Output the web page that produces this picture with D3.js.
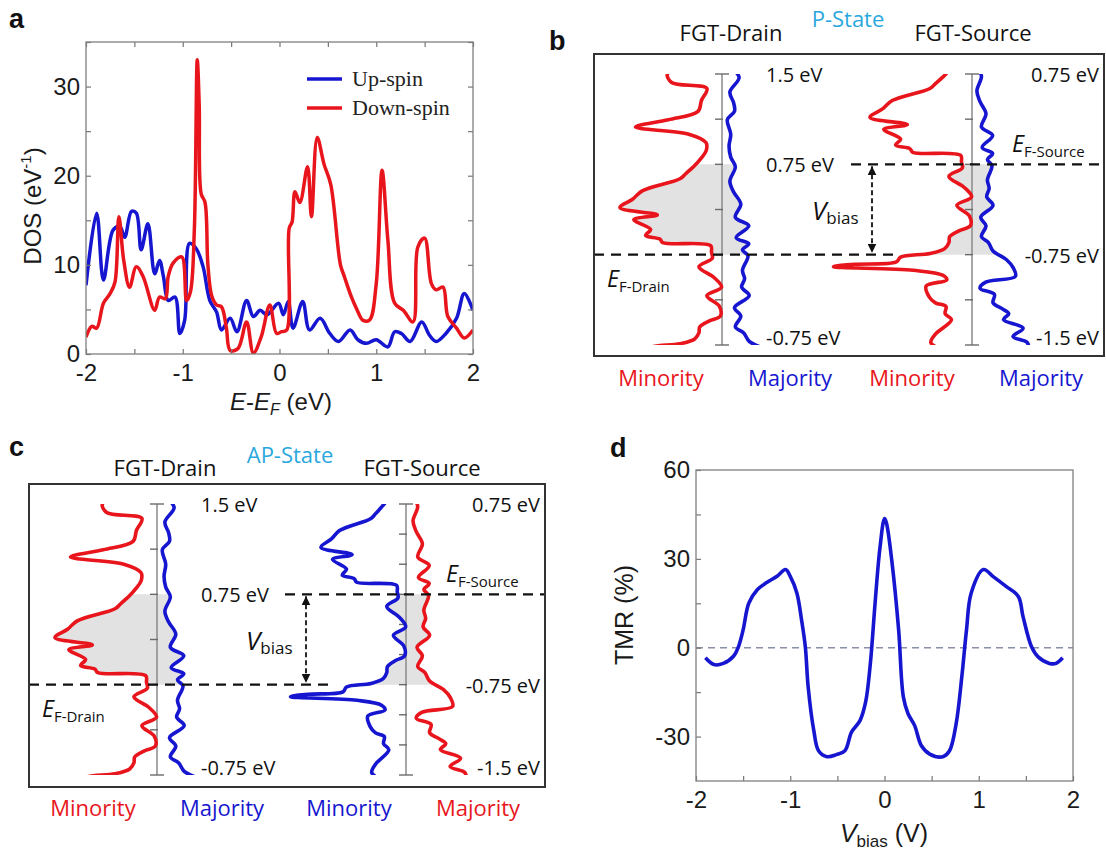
<!DOCTYPE html>
<html>
<head>
<meta charset="utf-8">
<script src="https://cdn.jsdelivr.net/npm/d3@7"></script>
<style>
  body { margin: 0; background: #fff; }
</style>
</head>
<body>
<svg id="fig" width="1106" height="851" font-family="Liberation Sans, Arial, sans-serif"></svg>
<script>
// ---- panel a : spin resolved DOS ----
const upE   = [-2,-1.89,-1.82,-1.72,-1.65,-1.6,-1.53,-1.48,-1.43,-1.36,-1.29,-1.24,-1.2,-1.15,-1.08,-1.03,-0.98,-0.93,-0.86,-0.79,-0.72,-0.65,-0.6,-0.51,-0.44,-0.34,-0.27,-0.2,-0.13,-0.01,0.04,0.09,0.14,0.24,0.31,0.42,0.52,0.61,0.73,0.81,0.9,1.0,1.12,1.19,1.26,1.35,1.47,1.55,1.62,1.72,1.83,1.91,2.0];
const upDOS = [7.7,15.8,8.3,13.9,14.3,13.1,16,15.8,11.7,14.6,9,10.5,8.7,6,6.4,2.3,3.8,12.4,11.8,9.8,6,4.7,2.7,4,2.5,6,4.2,4.9,4.4,5.7,4.4,5.9,2.9,5.9,2.7,4,2.3,1.4,2.7,1.6,1.2,1.6,0.8,2.5,2.3,1.4,3.6,2.1,1.4,2.3,4,6.8,4.9];
const downE   = [-2,-1.94,-1.89,-1.82,-1.75,-1.7,-1.66,-1.61,-1.55,-1.48,-1.41,-1.29,-1.24,-1.18,-1.15,-1.1,-1.01,-0.96,-0.92,-0.88,-0.85,-0.83,-0.81,-0.77,-0.74,-0.7,-0.65,-0.6,-0.55,-0.51,-0.43,-0.34,-0.27,-0.19,-0.1,-0.03,0.02,0.075,0.1,0.13,0.16,0.21,0.29,0.33,0.39,0.46,0.53,0.63,0.67,0.74,0.8,0.86,0.93,1.0,1.06,1.12,1.19,1.28,1.38,1.43,1.5,1.57,1.62,1.69,1.74,1.83,1.91,2.0];
const downDOS = [1.9,3.1,2.9,5.7,6.8,8.1,15.4,10.5,7.5,9.8,8.7,4.9,6.4,6.2,8.7,10.2,10.9,6,7,14,33,28,18,17,10,6.5,5.5,5.3,3,0.4,0.6,3.6,0.1,1.9,5.5,2.3,2.5,2.7,14.1,14.8,18.2,17,21,15.4,24.3,21.3,19,10,8.7,6.5,5,3.8,3.8,7.9,20.6,12.8,5.7,4.9,3.6,12,13,7.9,7.2,7.5,4.2,2.9,1.8,2.7];
const dosTicks = [0, 10, 20, 30], dosMinor = [5, 15, 25, 35];
const eTicks = [-2, -1, 0, 1, 2], eMinor = [-1.5, -0.5, 0.5, 1.5];

// ---- panels b, c : energy axes ----
const drainTicks    = [1.5, 1.125, 0.75, 0.375, 0, -0.375, -0.75];
const sourceTicksP  = [0.75, 0.375, 0, -0.375, -0.75, -1.125, -1.5];
const sourceTicksAP = [0.75, 0.5, 0.25, 0, -0.25, -0.5, -0.75, -1, -1.25, -1.5];
const drainLabels  = [[1.5, "1.5 eV"], [0.75, "0.75 eV"], [-0.75, "-0.75 eV"]];
const sourceLabels = [[0.75, "0.75 eV"], [-0.75, "-0.75 eV"], [-1.5, "-1.5 eV"]];

// ---- panel d : TMR vs bias ----
const vBias = [-1.9,-1.81,-1.71,-1.6,-1.55,-1.5,-1.44,-1.35,-1.25,-1.14,-1.05,-1.0,-0.93,-0.88,-0.84,-0.81,-0.75,-0.7,-0.61,-0.51,-0.42,-0.35,-0.26,-0.2,-0.15,-0.1,-0.05,0,0.02,0.08,0.15,0.2,0.25,0.32,0.39,0.48,0.62,0.69,0.76,0.82,0.87,0.92,1.05,1.15,1.29,1.42,1.47,1.56,1.63,1.75,1.82,1.89];
const tmr   = [-3.4,-5.7,-5.3,-2.8,0.3,6,15,19.6,22,24.1,26.4,24.1,18.5,9.4,0.3,-13.2,-28,-34.8,-36.8,-36.1,-34.8,-28.5,-24.6,-18.3,-5.3,15,33.2,43.6,42.2,28.7,6,-16.6,-22.3,-26.3,-33,-35.9,-36.8,-34.8,-25.7,-9.9,6,18.5,26.4,24.1,20.7,17.3,10.5,0.3,-3.1,-5.3,-5.3,-3.4];
const tmrTicks = [-30, 0, 30, 60], tmrMinor = [-15, 15, 45];
const vTicks = [-2, -1, 0, 1, 2], vMinor = [-1.5, -0.5, 0.5, 1.5];

const blue = "#1616d0", red = "#e8161c", cyan = "#2aa8de";
const up = upE.map((e, i) => ({ e: e, d: upDOS[i] }));
const down = downE.map((e, i) => ({ e: e, d: downDOS[i] }));

const svg = d3.select("#fig");
const defs = svg.append("defs");
defs.append("marker").attr("id", "arr")
  .attr("viewBox", "0 0 10 10").attr("refX", 10).attr("refY", 5)
  .attr("markerWidth", 9).attr("markerHeight", 9).attr("markerUnits", "userSpaceOnUse")
  .attr("orient", "auto-start-reverse")
  .append("path").attr("d", "M0,0 L10,5 L0,10 z").attr("fill", "#111");

const smooth = d3.curveCatmullRom.alpha(0.5);

function letter(x, y, t) {
  svg.append("text").attr("x", x).attr("y", y).attr("font-size", 27)
    .attr("font-family", "Liberation Sans, Arial, sans-serif")
    .attr("font-weight", "bold").attr("fill", "#111").text(t);
}

// box with inward ticks (a and d)
function framed(g, x, y, xt, xm, yt, ym, mirror) {
  const [x0, x1] = x.range(), [y0, y1] = y.range();
  const lab = list => d => list.includes(d) ? String(d) : "";
  const style = sel => {
    sel.select(".domain").remove();
    sel.attr("font-size", 24).attr("font-family", "Liberation Sans, Arial, sans-serif");
    sel.selectAll(".tick line").attr("stroke", "#777").attr("stroke-width", 1.2);
    sel.selectAll(".tick text").attr("fill", "#1a1a1a");
  };
  g.append("g").attr("transform", `translate(0,${y0})`)
    .call(d3.axisBottom(x).tickValues(xt.concat(xm)).tickSizeInner(-5).tickSizeOuter(0)
      .tickPadding(10).tickFormat(lab(xt))).call(style);
  g.append("g").attr("transform", `translate(${x0},0)`)
    .call(d3.axisLeft(y).tickValues(yt.concat(ym)).tickSizeInner(-5).tickSizeOuter(0)
      .tickPadding(6).tickFormat(lab(yt))).call(style);
  if (mirror) {
    g.append("g").attr("transform", `translate(0,${y1})`)
      .call(d3.axisTop(x).tickValues(xt.concat(xm)).tickSizeInner(-5).tickSizeOuter(0).tickFormat(""))
      .call(style);
    g.append("g").attr("transform", `translate(${x1},0)`)
      .call(d3.axisRight(y).tickValues(yt.concat(ym)).tickSizeInner(-5).tickSizeOuter(0).tickFormat(""))
      .call(style);
  }
  g.append("rect").attr("x", x0).attr("y", y1).attr("width", x1 - x0).attr("height", y0 - y1)
    .attr("fill", "none").attr("stroke", "#808080").attr("stroke-width", 1.3);
}

// ================= panel a =================
const xA = d3.scaleLinear().domain([-2, 2]).range([86, 473]);
const yA = d3.scaleLinear().domain([0, 35]).range([354, 42]);
const gA = svg.append("g");
defs.append("clipPath").attr("id", "clipA").append("rect")
  .attr("x", xA(-2)).attr("y", yA(35)).attr("width", xA(2) - xA(-2)).attr("height", yA(0) - yA(35));
const lineA = d3.line().x(p => xA(p.e)).y(p => yA(p.d)).curve(smooth);
gA.append("path").datum(up).attr("d", lineA).attr("clip-path", "url(#clipA)")
  .attr("fill", "none").attr("stroke", blue).attr("stroke-width", 3.5).attr("stroke-linejoin", "round");
gA.append("path").datum(down).attr("d", lineA).attr("clip-path", "url(#clipA)")
  .attr("fill", "none").attr("stroke", red).attr("stroke-width", 3.5).attr("stroke-linejoin", "round");
framed(gA, xA, yA, eTicks, eMinor, dosTicks, dosMinor, true);

const legA = [["Up-spin", blue], ["Down-spin", red]];
legA.forEach((l, i) => {
  const yy = 79 + i * 29;
  gA.append("line").attr("x1", 307).attr("x2", 342).attr("y1", yy).attr("y2", yy)
    .attr("stroke", l[1]).attr("stroke-width", 3.5);
  gA.append("text").attr("x", 352).attr("y", yy).attr("dy", "0.33em")
    .attr("font-family", "Liberation Serif, Times New Roman, serif").attr("font-size", 22)
    .attr("fill", "#222").text(l[0]);
});
const ylA = gA.append("text").attr("transform", "translate(41,206) rotate(-90)")
  .attr("text-anchor", "middle").attr("font-size", 24).attr("fill", "#1a1a1a");
ylA.append("tspan").text("DOS (eV");
ylA.append("tspan").attr("dy", -10).attr("font-size", 15).text("-1");
ylA.append("tspan").attr("dy", 10).text(")");
const xlA = gA.append("text").attr("x", 281).attr("y", 410)
  .attr("text-anchor", "middle").attr("font-size", 24).attr("fill", "#1a1a1a");
xlA.append("tspan").attr("font-style", "italic").text("E");
xlA.append("tspan").text("-");
xlA.append("tspan").attr("font-style", "italic").text("E");
xlA.append("tspan").attr("font-style", "italic").attr("font-size", 16).attr("dy", 5).text("F");
xlA.append("tspan").attr("dy", -5).text(" (eV)");
letter(9, 28, "a");

// ================= panels b & c =================
function stateDiagram(c) {
  const g = svg.append("g").attr("font-family", "Open Sans, sans-serif");
  const yD = d3.scaleLinear().domain([1.5, -0.75]).range([c.eTop, c.eBottom]);
  const yS = d3.scaleLinear().domain([0.75, -1.5]).range([c.eTop, c.eBottom]);
  const kD = d3.scaleLinear().domain([0, 10]).range([0, 42]);
  const kSmin = d3.scaleLinear().domain([0, 10]).range([0, c.kSmin]);
  const kSmaj = d3.scaleLinear().domain([0, 10]).range([0, c.kSmaj]);
  const dMin = down.map(p => [c.axisD - kD(p.d), yD(p.e)]);
  const dMaj = up.map(p => [c.axisD + 2 + kD(p.d), yD(p.e)]);
  const sMin = down.map(p => [c.axisS - kSmin(p.d), yS(p.e)]);
  const sMaj = up.map(p => [c.axisS + c.sMajOff + kSmaj(p.d), yS(p.e)]);
  const line = d3.line().curve(smooth);
  const yF0 = yD(0.75), yF1 = yD(0);

  defs.append("clipPath").attr("id", c.id + "band").append("rect")
    .attr("x", c.left).attr("y", yF0).attr("width", c.right - c.left).attr("height", yF1 - yF0);
  defs.append("clipPath").attr("id", c.id + "range").append("rect")
    .attr("x", c.left).attr("y", c.eTop).attr("width", c.right - c.left).attr("height", c.eBottom - c.eTop);

  // occupied window between the two Fermi levels
  [[dMin, dMaj], [sMin, sMaj]].forEach(pr => {
    g.append("path").attr("d", line(pr[0].concat(pr[1].slice().reverse())) + "Z")
      .attr("clip-path", `url(#${c.id}band)`).attr("fill", "#e2e2e2");
  });

  // energy axes
  [[c.axisD, yD, drainTicks], [c.axisS, yS, c.sourceTicks]].forEach(ax => {
    g.append("line").attr("x1", ax[0]).attr("x2", ax[0]).attr("y1", c.eTop).attr("y2", c.eBottom)
      .attr("stroke", "#8a8a8a").attr("stroke-width", 1.5);
    g.selectAll(null).data(ax[2]).join("line")
      .attr("x1", ax[0] - 7)
      .attr("x2", (d, i) => (i === 0 || i === ax[2].length - 1) ? ax[0] + 7 : ax[0] + 1)
      .attr("y1", d => ax[1](d)).attr("y2", d => ax[1](d))
      .attr("stroke", "#6a6a6a").attr("stroke-width", 1.4);
  });

  // DOS curves
  [[dMin, red], [dMaj, blue], [sMin, c.sMinColor], [sMaj, c.sMajColor]].forEach(cv => {
    g.append("path").attr("d", line(cv[0])).attr("clip-path", `url(#${c.id}range)`)
      .attr("fill", "none").attr("stroke", cv[1]).attr("stroke-width", 3.6)
      .attr("stroke-linejoin", "round").attr("stroke-linecap", "round");
  });

  // Fermi levels and bias arrow
  g.append("line").attr("x1", c.left).attr("x2", c.axisS - 72).attr("y1", yF1).attr("y2", yF1)
    .attr("stroke", "#111").attr("stroke-width", 2.4).attr("stroke-dasharray", "10,7");
  g.append("line").attr("x1", c.axisS - 121).attr("x2", c.right).attr("y1", yF0).attr("y2", yF0)
    .attr("stroke", "#111").attr("stroke-width", 2.4).attr("stroke-dasharray", "10,7");
  g.append("line").attr("x1", c.axisS - 100).attr("x2", c.axisS - 100)
    .attr("y1", yF0 + 2).attr("y2", yF1 - 2)
    .attr("stroke", "#111").attr("stroke-width", 1.8).attr("stroke-dasharray", "5,3")
    .attr("marker-start", "url(#arr)").attr("marker-end", "url(#arr)");

  // frame
  g.append("rect").attr("x", c.left).attr("y", c.top).attr("width", c.right - c.left)
    .attr("height", c.bottom - c.top).attr("fill", "none").attr("stroke", "#333").attr("stroke-width", 2);

  // texts
  const vb = g.append("text").attr("x", c.axisS - 160).attr("y", yF0 + 56).attr("fill", "#111");
  vb.append("tspan").attr("font-style", "italic").attr("font-size", 26).text("V");
  vb.append("tspan").attr("font-size", 17).attr("dy", 4).text("bias");
  const efd = g.append("text").attr("x", c.left + 13).attr("y", yF1 + 32).attr("fill", "#111");
  efd.append("tspan").attr("font-style", "italic").attr("font-size", 23).text("E");
  efd.append("tspan").attr("font-size", 15).attr("dy", 5).text("F-Drain");
  const efs = g.append("text").attr("x", c.axisS + 40).attr("y", yF0 - 12).attr("fill", "#111");
  efs.append("tspan").attr("font-style", "italic").attr("font-size", 23).text("E");
  efs.append("tspan").attr("font-size", 15).attr("dy", 5).text("F-Source");

  const labY = (y, e, lo) => e === lo ? y(e) - 7 : (y(e) + 1);
  g.selectAll(null).data(drainLabels).join("text")
    .attr("x", c.axisD + 44).attr("y", d => labY(yD, d[0], -0.75)).attr("dy", "0.35em")
    .attr("font-size", 20).attr("fill", "#111").text(d => d[1]);
  g.selectAll(null).data(sourceLabels).join("text")
    .attr("x", c.right - 5).attr("y", d => labY(yS, d[0], -1.5)).attr("dy", "0.35em")
    .attr("text-anchor", "end").attr("font-size", 20).attr("fill", "#111").text(d => d[1]);

  c.titles.forEach(t => {
    g.append("text").attr("x", t[0]).attr("y", t[1]).attr("text-anchor", "middle")
      .attr("dy", "0.35em").attr("font-size", 22).attr("fill", t[3]).text(t[2]);
  });
  letter(c.letter[0], c.letter[1], c.letter[2]);
}

stateDiagram({
  id: "b", left: 594, right: 1104, top: 54, bottom: 356, eTop: 74, eBottom: 345,
  axisD: 722, axisS: 972, kSmin: 42, kSmaj: 35, sMajOff: 0,
  sourceTicks: sourceTicksP, sMinColor: red, sMajColor: blue,
  titles: [[731, 33, "FGT-Drain", "#111"], [848, 19, "P-State", cyan], [973, 33, "FGT-Source", "#111"],
           [661, 378, "Minority", red], [790, 378, "Majority", blue],
           [912, 378, "Minority", red], [1041, 378, "Majority", blue]],
  letter: [549, 50, "b"]
});
stateDiagram({
  id: "c", left: 29, right: 545, top: 484, bottom: 787, eTop: 504, eBottom: 775,
  axisD: 157, axisS: 406, kSmin: 35, kSmaj: 36, sMajOff: 2,
  sourceTicks: sourceTicksAP, sMinColor: blue, sMajColor: red,
  titles: [[165, 468, "FGT-Drain", "#111"], [290, 455, "AP-State", cyan], [422, 468, "FGT-Source", "#111"],
           [93, 808, "Minority", red], [222, 808, "Majority", blue],
           [349, 808, "Minority", blue], [478, 808, "Majority", red]],
  letter: [9, 456, "c"]
});

// ================= panel d =================
const xD = d3.scaleLinear().domain([-2, 2]).range([696, 1073]);
const yDd = d3.scaleLinear().domain([-45, 60]).range([781, 470]);
const gD = svg.append("g");
gD.append("line").attr("x1", xD(-2)).attr("x2", xD(2)).attr("y1", yDd(0)).attr("y2", yDd(0))
  .attr("stroke", "#8a90a8").attr("stroke-width", 1.6).attr("stroke-dasharray", "7,5");
framed(gD, xD, yDd, vTicks, vMinor, tmrTicks, tmrMinor, false);
gD.append("path").datum(vBias.map((v, i) => [v, tmr[i]]))
  .attr("d", d3.line().x(p => xD(p[0])).y(p => yDd(p[1])).curve(smooth))
  .attr("fill", "none").attr("stroke", blue).attr("stroke-width", 3.6).attr("stroke-linejoin", "round");
gD.append("text").attr("transform", "translate(633,615) rotate(-90)")
  .attr("text-anchor", "middle").attr("font-size", 25).attr("fill", "#1a1a1a").text("TMR (%)");
const xlD = gD.append("text").attr("x", 884).attr("y", 842)
  .attr("text-anchor", "middle").attr("font-size", 25).attr("fill", "#1a1a1a");
xlD.append("tspan").attr("font-style", "italic").text("V");
xlD.append("tspan").attr("font-size", 17).attr("dy", 5).text("bias");
xlD.append("tspan").attr("dy", -5).text(" (V)");
letter(610, 457, "d");
</script>
</body>
</html>
